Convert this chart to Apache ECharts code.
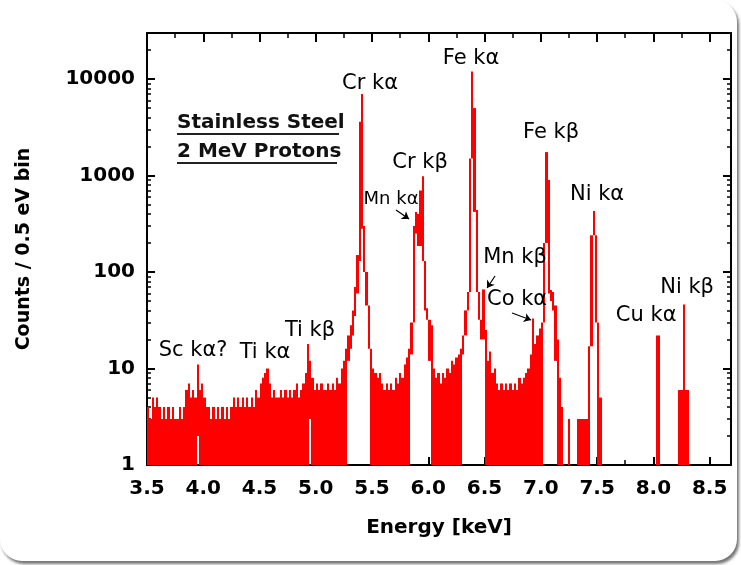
<!DOCTYPE html>
<html>
<head>
<meta charset="utf-8">
<script src="https://cdn.jsdelivr.net/npm/echarts@6/dist/echarts.min.js"></script>
<style>
html,body{margin:0;padding:0;background:#ffffff;}
#chart{width:741px;height:565px;}
</style>
</head>
<body>
<div id="chart"></div>
<script>
// ---- spectrum: 0.02 keV bins starting at 3.50 keV ----
const BIN_START = 3.5;
const BIN_WIDTH = 0.02;
// highest count reached inside each bin
const hiCounts = [
  4,3,5,4,5,4,3,4,3,4,
  3,4,3,3,4,3,4,6,7,5,
  6,5,11,6,7,5,4,4,3,4,
  3,4,3,4,3,4,3,4,5,4,
  5,4,5,4,5,4,5,4,6,5,
  7,8,9,10,7,5,6,5,5,6,
  5,6,5,6,5,6,7,5,6,7,
  9,18,12,8,6,7,6,7,6,6,
  7,6,7,6,8,7,10,12,16,22,
  28,40,70,150,3600,7000,300,100,45,16,
  10,9,8,9,7,6,7,6,7,6,
  8,7,9,8,11,13,16,30,300,420,
  400,700,980,130,42,32,28,10,8,9,
  7,9,8,10,9,12,11,13,14,16,
  22,40,62,1500,12000,5000,440,62,32,66,
  25,12,15,9,10,7,6,7,6,7,
  6,7,6,7,6,8,7,8,9,10,
  14,33,18,22,26,30,200,1750,900,65,
  62,45,20,8,4,0,0,3,0,0,
  0,3,3,3,3,3,17,240,430,240,
  30,5,0,0,0,0,0,0,0,0,
  0,0,0,0,0,0,0,0,0,0,
  0,0,0,0,0,0,22,22,0,0,
  0,0,0,0,0,0,6,6,46,6,
  6,0,0,0,0,0,0,0,0,0,
  0,0,0,0,0,0,0,0,0,0
];
// lowest count reached inside each bin (1 = bins containing empty channels)
const loCounts = [
  1,1,1,1,1,1,1,1,1,1,
  1,1,1,1,1,1,1,1,1,1,
  1,1,2,1,1,1,1,1,1,1,
  1,1,1,1,1,1,1,1,1,1,
  1,1,1,1,1,1,1,1,1,1,
  1,1,1,1,1,1,1,1,1,1,
  1,1,1,1,1,1,1,1,1,1,
  1,1,3,1,1,1,1,1,1,1,
  1,1,1,1,1,1,1,1,1,12,
  16,22,35,60,130,280,100,45,16,1,
  1,1,1,1,1,1,1,1,1,1,
  1,1,1,1,1,1,1,14,30,250,
  186,186,130,40,32,12,1,1,1,1,
  1,1,1,1,1,1,1,1,1,1,
  14,22,40,62,1500,420,62,32,20,20,
  1,1,1,1,1,1,1,1,1,1,
  1,1,1,1,1,1,1,1,1,1,
  1,1,1,1,1,1,30,200,60,50,
  40,12,1,1,1,1,1,1,1,1,
  1,1,1,1,1,1,1,17,240,30,
  1,1,1,1,1,1,1,1,1,1,
  1,1,1,1,1,1,1,1,1,1,
  1,1,1,1,1,1,1,1,1,1,
  1,1,1,1,1,1,1,1,1,1,
  1,1,1,1,1,1,1,1,1,1,
  1,1,1,1,1,1,1,1,1,1
];

// ---- peak annotations (energy keV, counts) ----
const peakNames  = ['Sc kα?','Ti kα','Ti kβ','Cr kα','Mn kα','Cr kβ','Fe kα','Mn kβ','Co kα','Fe kβ','Ni kα','Cu kα','Ni kβ'];
const peakEnergy = [3.909, 4.549, 4.949, 5.482, 5.669, 5.927, 6.38, 6.771, 6.789, 7.091, 7.50, 7.936, 8.30];
const peakCount  = [15.5, 14.8, 24.5, 8880, 571, 1349, 16500, 140, 51.3, 2756, 628, 35.4, 68.3];
// arrows: [fromE, fromCount, toE, toCount]
const arrowMnKa = [5.713, 439, 5.829, 354];
const arrowMnKb = [6.593, 90.9, 6.522, 68.3];
const arrowCoKa = [6.744, 37.6, 6.913, 31.8];

// ---- axes ----
const X_MIN = 3.5, X_MAX = 8.69;
const Y_MIN = 1, Y_MAX = 30000;
const yMinorTicks = [2,3,4,5,6,7,8,9,20,30,40,50,60,70,80,90,200,300,400,500,600,700,800,900,2000,3000,4000,5000,6000,7000,8000,9000,20000];

const FONT = 'DejaVu Sans';
const specData = [];
for (let i = 0; i < hiCounts.length; i++) {
  if (hiCounts[i] > 0) specData.push([BIN_START + i * BIN_WIDTH, loCounts[i], hiCounts[i]]);
}
const labelData = peakNames.map((n, i) => ({
  name: n,
  value: [peakEnergy[i], peakCount[i]],
  label: { fontSize: n === 'Mn kα' ? 18 : 21 }
}));
const arrowData = [arrowMnKa, arrowMnKb, arrowCoKa].map(a => [{ coord: [a[0], a[1]] }, { coord: [a[2], a[3]] }]);

const black = '#000';
function xAx(pos, interval, len, width, labels) {
  return {
    type: 'value', position: pos, min: X_MIN, max: X_MAX, interval: interval,
    splitLine: { show: false },
    axisLine: { show: labels || (pos === 'top' && interval === 0.5), onZero: false, lineStyle: { color: black, width: 2 } },
    axisTick: { show: true, inside: true, length: len, lineStyle: { color: black, width: width } },
    axisLabel: labels ? {
      show: true, showMaxLabel: false, margin: 14,
      fontFamily: FONT, fontWeight: 'bold', fontSize: 20, color: '#000',
      formatter: v => v.toFixed(1)
    } : { show: false },
    name: labels ? 'Energy [keV]' : '',
    nameLocation: 'middle', nameGap: 53,
    nameTextStyle: { fontFamily: FONT, fontWeight: 'bold', fontSize: 20, color: '#000' }
  };
}
function yAx(pos, minor, labels) {
  const ax = {
    type: 'log', logBase: 10, position: pos, min: Y_MIN, max: Y_MAX,
    splitLine: { show: false },
    axisLine: { show: !minor, onZero: false, lineStyle: { color: black, width: 2 } },
    axisTick: { show: true, inside: true, length: minor ? 4 : 8, lineStyle: { color: black, width: minor ? 1.5 : 2 } },
    axisLabel: labels ? {
      show: true, showMaxLabel: false, margin: 12,
      fontFamily: FONT, fontWeight: 'bold', fontSize: 20, color: '#000',
      formatter: v => String(Math.round(v))
    } : { show: false }
  };
  if (minor) ax.axisTick.customValues = yMinorTicks;
  if (labels) {
    ax.name = 'Counts / 0.5 eV bin';
    ax.nameLocation = 'middle';
    ax.nameRotate = 90;
    ax.nameGap = 113;
    ax.nameTextStyle = { fontFamily: FONT, fontWeight: 'bold', fontSize: 19, color: '#000' };
  }
  return ax;
}

const chart = echarts.init(document.getElementById('chart'), null, { renderer: 'canvas' });
chart.setOption({
  animation: false,
  backgroundColor: 'transparent',
  grid: { left: 147, top: 33, right: 10, bottom: 100, containLabel: false, outerBoundsMode: 'none' },
  graphic: [
    {
      type: 'rect', z: -100, silent: true,
      shape: { x: 0, y: 0, width: 737, height: 561, r: 22 },
      style: { fill: '#ffffff',
               shadowBlur: 3, shadowOffsetX: 2, shadowOffsetY: 3, shadowColor: 'rgba(0,0,0,0.55)' }
    },
    { type: 'text', z: 100, silent: true, left: 177, top: 113,
      style: { text: 'Stainless Steel', font: 'bold 20px "DejaVu Sans"', fill: '#111' } },
    { type: 'rect', z: 100, silent: true, shape: { x: 177, y: 133, width: 162, height: 2 }, style: { fill: '#222' } },
    { type: 'text', z: 100, silent: true, left: 177, top: 142,
      style: { text: '2 MeV Protons', font: 'bold 20px "DejaVu Sans"', fill: '#111' } },
    { type: 'rect', z: 100, silent: true, shape: { x: 177, y: 162, width: 160, height: 2 }, style: { fill: '#222' } }
  ],
  xAxis: [
    xAx('bottom', 0.5, 8, 2, true),
    xAx('bottom', 0.25, 5, 1.5, false),
    xAx('top', 0.5, 9, 2, false),
    xAx('top', 0.25, 5, 1.5, false)
  ],
  yAxis: [
    yAx('left', false, true),
    yAx('left', true, false),
    yAx('right', false, false),
    yAx('right', true, false)
  ],
  series: [
    {
      type: 'custom', name: 'spectrum', xAxisIndex: 0, yAxisIndex: 0,
      clip: true, silent: true,
      encode: { x: 0, y: [1, 2] },
      data: specData,
      renderItem: function (params, api) {
        const e = api.value(0), lo = api.value(1), hi = api.value(2);
        const a = api.coord([e, hi]);
        const b = api.coord([e + BIN_WIDTH, lo]);
        const x0 = Math.round(a[0]), x1 = Math.round(b[0]);
        return {
          type: 'rect',
          shape: { x: x0, y: a[1], width: Math.max(x1 - x0, 1), height: Math.max(b[1] - a[1], 1) },
          style: { fill: '#ff0000' }
        };
      }
    },
    {
      type: 'scatter', name: 'labels', xAxisIndex: 0, yAxisIndex: 0,
      symbolSize: 1, silent: true,
      itemStyle: { color: 'rgba(0,0,0,0)' },
      label: { show: true, position: 'inside', formatter: p => p.name,
               fontFamily: FONT, fontSize: 21, color: '#000', opacity: 1, textBorderWidth: 0 },
      emphasis: { disabled: true },
      data: labelData,
      markLine: {
        silent: true, animation: false,
        symbol: ['none', 'arrow'], symbolSize: 7,
        label: { show: false },
        lineStyle: { color: '#000', width: 1.2, type: 'solid', opacity: 1 },
        emphasis: { disabled: true },
        data: arrowData
      }
    }
  ]
});
</script>
</body>
</html>
